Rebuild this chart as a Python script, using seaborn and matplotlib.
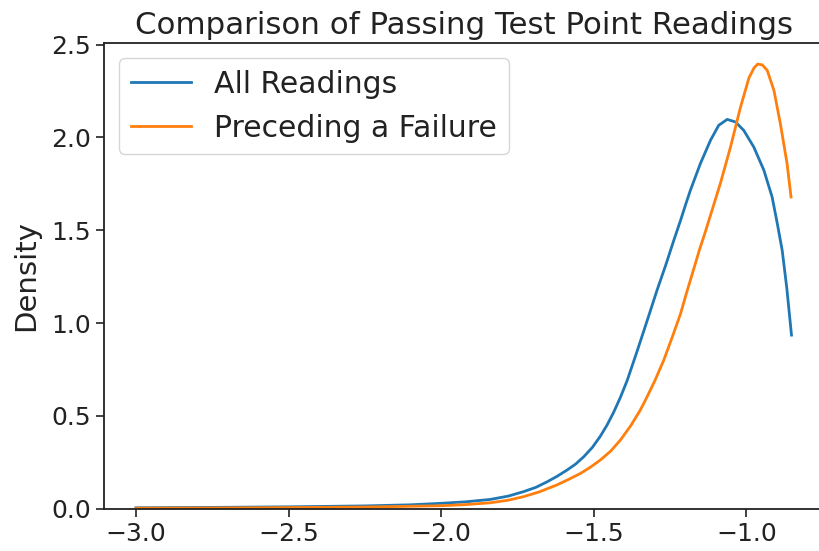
import matplotlib
matplotlib.use("Agg")
import matplotlib.pyplot as plt
import seaborn as sns
import pandas as pd

# Values
all_x = [-3.0, -2.75, -2.5, -2.25, -2.1, -2.0, -1.92, -1.839, -1.78, -1.73, -1.69,
         -1.653, -1.62, -1.588, -1.56, -1.533, -1.505, -1.479, -1.457, -1.435,
         -1.413, -1.391, -1.358, -1.325, -1.293, -1.265, -1.238, -1.216, -1.2,
         -1.184, -1.151, -1.118, -1.091, -1.063, -1.036, -1.009, -0.976, -0.943,
         -0.916, -0.899, -0.883, -0.868, -0.8525]
all_y = [0.005, 0.007, 0.010, 0.015, 0.021, 0.029, 0.037, 0.050, 0.068, 0.092, 0.115,
         0.145, 0.175, 0.208, 0.24, 0.280, 0.33, 0.39, 0.45, 0.52,
         0.60, 0.69, 0.85, 1.015, 1.177, 1.31, 1.446, 1.553, 1.635,
         1.714, 1.859, 1.984, 2.065, 2.097, 2.083, 2.038, 1.948, 1.823,
         1.679, 1.536, 1.392, 1.19, 0.935]

fail_x = [-3.0, -2.75, -2.5, -2.25, -2.0, -1.92, -1.839, -1.78, -1.73, -1.68, -1.621,
          -1.58, -1.544, -1.51, -1.479, -1.445, -1.413, -1.38, -1.348, -1.331, -1.3,
          -1.271, -1.243, -1.216, -1.195, -1.173, -1.153, -1.135, -1.118, -1.085,
          -1.052, -1.02, -0.992, -0.975, -0.963, -0.948, -0.932, -0.91, -0.889,
          -0.867, -0.854]
fail_y = [0.003, 0.004, 0.006, 0.009, 0.016, 0.022, 0.032, 0.046, 0.065, 0.09, 0.128,
          0.16, 0.19, 0.225, 0.262, 0.31, 0.370, 0.445, 0.531, 0.585, 0.69,
          0.800, 0.925, 1.05, 1.17, 1.29, 1.40, 1.49, 1.58, 1.755,
          1.95, 2.16, 2.32, 2.375, 2.395, 2.39, 2.361, 2.253, 2.074,
          1.859, 1.679]

labels = ["All Readings", "Preceding a Failure"]
colors = ["#1f77b4", "#ff7f0e"]
x_ticks = [-3.0, -2.5, -2.0, -1.5, -1.0]
y_ticks = [0.0, 0.5, 1.0, 1.5, 2.0, 2.5]

df = pd.concat([
    pd.DataFrame({"x": all_x, "Density": all_y, "series": labels[0]}),
    pd.DataFrame({"x": fail_x, "Density": fail_y, "series": labels[1]}),
], ignore_index=True)

plt.rcParams["font.family"] = ["DejaVu Sans"]

fig = plt.figure(figsize=(8.19, 5.51), dpi=100)
ax = fig.add_axes([104 / 819, 1 - 508.7 / 551, (824 - 104) / 819, (508.7 - 42.7) / 551])

sns.lineplot(data=df, x="x", y="Density", hue="series", palette=colors,
             hue_order=labels, linewidth=2.0, ax=ax, sort=False, estimator=None)

ax.set_ylim(0, 2.51)
ax.set_xlim(-3.105, -0.746)
ax.set_xticks(x_ticks)
ax.set_yticks(y_ticks)
ax.set_xlabel("")
ax.set_ylabel("Density", fontsize=21, labelpad=8, color="#222222")
ax.tick_params(labelsize=18, length=6, width=1.2, color="#222222", labelcolor="#222222")
for s in ax.spines.values():
    s.set_color("#222222")
    s.set_linewidth(1.3)
ax.set_title("Comparison of Passing Test Point Readings", fontsize=22.2, pad=6,
             color="#222222")

handles, _ = ax.get_legend_handles_labels()
leg = ax.legend(handles=handles, labels=labels, loc="upper left", fontsize=21.5,
                frameon=True)
for t in leg.get_texts():
    t.set_color("#222222")

fig.savefig("out.png", dpi=100)
